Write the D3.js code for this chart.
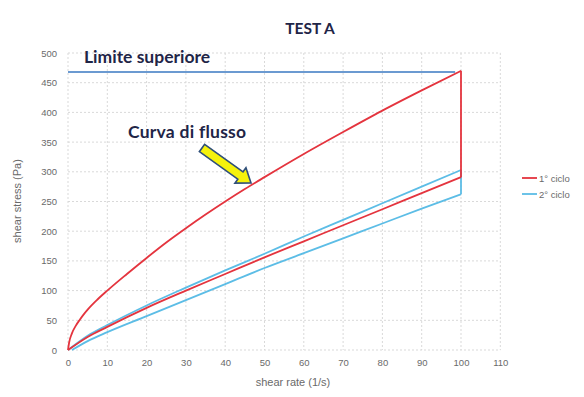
<!DOCTYPE html>
<html><head><meta charset="utf-8">
<script src="https://cdn.jsdelivr.net/npm/d3@7"></script>
<style>body{margin:0;background:#fff}svg{display:block}</style>
</head><body>
<svg id="c" width="584" height="397"></svg>
<script>
const title = "TEST A";
const xTicks = [0,10,20,30,40,50,60,70,80,90,100,110];
const yTicks = [0,50,100,150,200,250,300,350,400,450,500];
const xLabel = "shear rate (1/s)";
const yLabel = "shear stress (Pa)";
const seriesNames = ["1° ciclo", "2° ciclo"];
const limitValue = 468;
const limitLabel = "Limite superiore";
const arrowLabel = "Curva di flusso";
// 1° ciclo: ascending then descending
const c1Up = [[0,0],[0.3,13],[1,28],[2,41],[3,51],[4,60],[5,68],[7.5,85],[10,100],[15,128],[20,155],[25,181],[30,205],[35,228],[40,250],[45,271],[50,291],[60,330],[70,367],[80,403],[90,437],[100,470]];
const c1Down = [[100,291],[90,264],[80,237],[70,210],[60,183],[50,156],[40,128],[30,100],[20,71],[10,39],[5,22],[0,0]];
// 2° ciclo
const c2Up = [[0,0],[5,24],[10,42],[20,75],[30,105],[40,134],[50,162],[60,191],[70,219],[80,247],[90,275],[100,303]];
const c2Down = [[100,262],[90,238],[80,213],[70,188],[60,163],[50,138],[40,111],[30,84],[20,57],[10,30],[5,15],[1,0]];

const svg = d3.select("#c");
const x = d3.scaleLinear().domain([0,110]).range([68,500.3]);
const y = d3.scaleLinear().domain([0,500]).range([350,53]);
const grey = "#6a6a6a";
const font = "'Liberation Sans', Arial, sans-serif";
const navy = "#1f2547";

// grid
svg.append("g").selectAll("line.v").data(xTicks).join("line")
  .attr("x1",d=>x(d)).attr("x2",d=>x(d)).attr("y1",y(500)).attr("y2",y(0))
  .attr("stroke","#d9d9d9").attr("stroke-dasharray","2,2").attr("stroke-width",1);
svg.append("g").selectAll("line.h").data(yTicks).join("line")
  .attr("x1",x(0)).attr("x2",x(110)).attr("y1",d=>y(d)).attr("y2",d=>y(d))
  .attr("stroke","#d9d9d9").attr("stroke-dasharray","2,2").attr("stroke-width",1);

// axes
const xAxis = d3.axisBottom(x).tickValues(xTicks).tickSize(0).tickPadding(9);
const gx = svg.append("g").attr("transform",`translate(0,${y(0)})`).call(xAxis);
gx.select(".domain").remove();
gx.selectAll("text").attr("fill",grey).attr("font-size","9.5px").attr("font-family",font);
const yAxis = d3.axisLeft(y).tickValues(yTicks).tickSize(0).tickPadding(11);
const gy = svg.append("g").attr("transform",`translate(${x(0)},0)`).call(yAxis);
gy.select(".domain").remove();
gy.selectAll("text").attr("fill",grey).attr("font-size","9.5px").attr("font-family",font);

svg.append("text").attr("x",293).attr("y",386).attr("text-anchor","middle")
  .attr("fill",grey).attr("font-size","11px").attr("font-family",font).text(xLabel);
svg.append("text").attr("transform","translate(21,201) rotate(-90)").attr("text-anchor","middle")
  .attr("fill",grey).attr("font-size","11px").attr("font-family",font).text(yLabel);

// limit line
svg.append("line").attr("x1",x(0)).attr("x2",x(98.5)).attr("y1",y(limitValue)).attr("y2",y(limitValue))
  .attr("stroke","#3a78c2").attr("stroke-width",1.3);

const colors = ["#e4343e","#5cbde6"];
const loops = [[c1Up,c1Down],[c2Up,c2Down]];
const mk = d3.line().x(d=>x(d[0])).y(d=>y(d[1])).curve(d3.curveMonotoneX);
// draw blue first, red on top
[1,0].forEach(i=>{
  const [up,down] = loops[i];
  const g = svg.append("g").attr("fill","none").attr("stroke",colors[i]).attr("stroke-width",1.8);
  g.append("path").attr("d",mk(up));
  g.append("path").attr("d",mk(down.slice().reverse()));
  g.append("line").attr("x1",x(100)).attr("x2",x(100)).attr("y1",y(up[up.length-1][1])).attr("y2",y(down[0][1]));
});

// legend
seriesNames.forEach((n,i)=>{
  const ly = 178 + i*16;
  svg.append("line").attr("x1",522).attr("x2",537).attr("y1",ly).attr("y2",ly)
    .attr("stroke",colors[i]).attr("stroke-width",1.8);
  svg.append("text").attr("x",539).attr("y",ly+3.5).attr("fill",grey)
    .attr("font-size","9.5px").attr("font-family",font).text(n);
});

// title and annotations
const bold = "Lato, 'Open Sans', sans-serif";
svg.append("text").attr("x",310).attr("y",34).attr("text-anchor","middle")
  .attr("fill",navy).attr("font-size","15.5px").attr("font-weight","bold").attr("font-family",bold).text(title);
svg.append("text").attr("x",84).attr("y",63)
  .attr("fill",navy).attr("font-size","17.5px").attr("font-weight","bold").attr("font-family",bold).text(limitLabel);
svg.append("text").attr("x",128).attr("y",138).attr("letter-spacing","0.25")
  .attr("fill",navy).attr("font-size","17.5px").attr("font-weight","bold").attr("font-family",bold).text(arrowLabel);

// block arrow from (202,147) to tip (251,183)
const ax0=202, ay0=148, ax1=251, ay1=183;
const ang = Math.atan2(ay1-ay0, ax1-ax0);
const len = Math.hypot(ax1-ax0, ay1-ay0);
const hw=4.5, hl=13, hh=9.5;
const pts = [[0,-hw],[len-hl,-hw],[len-hl,-hh],[len,0],[len-hl,hh],[len-hl,hw],[0,hw]];
svg.append("polygon")
  .attr("points", pts.map(p=>p.join(",")).join(" "))
  .attr("transform",`translate(${ax0},${ay0}) rotate(${ang*180/Math.PI})`)
  .attr("fill","#f5f20c").attr("stroke","#2f4f7a").attr("stroke-width",1.6).attr("stroke-linejoin","miter");
</script>
</body></html>
